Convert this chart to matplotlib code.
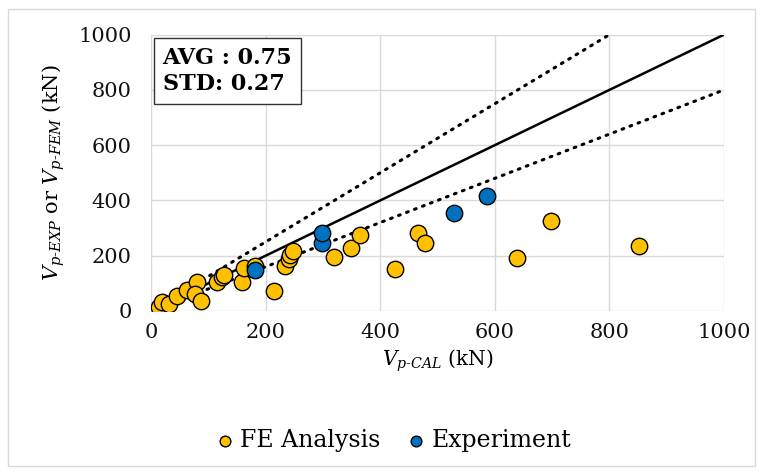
import numpy as np
import matplotlib.pyplot as plt
from matplotlib.patches import Rectangle

# FE analysis points (V_p-CAL, V_p-FEM)
fe_cal = [14, 19, 31, 45, 62, 80, 77, 87, 115, 123, 127, 158, 163, 181,
          214, 234, 240, 243, 247, 320, 349, 365, 425, 465, 478, 639, 698, 851]
fe_fem = [16, 32, 24, 53, 76, 105, 62, 36, 104, 124, 130, 106, 155, 162,
          72, 163, 187, 202, 218, 196, 228, 275, 151, 283, 247, 192, 326, 236]

# experiment points (V_p-CAL, V_p-EXP)
exp_cal = [181, 298, 298, 528, 586]
exp_val = [147, 247, 281, 353, 417]

ref_x = [0, 1000]

plt.rcParams['font.family'] = 'DejaVu Serif'
plt.rcParams['mathtext.fontset'] = 'dejavuserif'

fig = plt.figure(figsize=(7.63, 4.74), dpi=100)
fig.patches.append(Rectangle((8 / 763, 1 - 466 / 474), 747 / 763, 457 / 474,
                             transform=fig.transFigure, fill=False,
                             edgecolor='#d9d9d9', linewidth=1))
ax = fig.add_axes([0.198, 0.344, 0.751, 0.583])

ax.plot(ref_x, ref_x, color='black', lw=1.8, zorder=2)
ax.plot(ref_x, [1.25 * v for v in ref_x], color='black', lw=2.2, ls=(0, (0.6, 2.2)),
        dash_capstyle='round', zorder=2)
ax.plot(ref_x, [0.8 * v for v in ref_x], color='black', lw=2.2, ls=(0, (0.6, 2.2)),
        dash_capstyle='round', zorder=2)

ax.scatter(fe_cal, fe_fem, s=140, color='#FFC000', edgecolor='black', lw=1,
           zorder=3, label='FE Analysis')
ax.scatter(exp_cal, exp_val, s=140, color='#0070C0', edgecolor='black', lw=1,
           zorder=4, label='Experiment')

ax.set_xlim(0, 1000)
ax.set_ylim(0, 1000)
ax.set_xticks(np.arange(0, 1001, 200))
ax.set_yticks(np.arange(0, 1001, 200))
ax.grid(True, color='#d9d9d9', lw=1)
ax.set_axisbelow(True)
for s in ax.spines.values():
    s.set_visible(False)
ax.tick_params(length=0, labelsize=15, colors='#111111')
ax.tick_params(axis='y', pad=14)
ax.tick_params(axis='x', pad=9)

ax.set_xlabel(r'$V_{p\text{-}CAL}$ (kN)', fontsize=14.5, labelpad=4)
ax.set_ylabel(r'$V_{p\text{-}EXP}$ or $V_{p\text{-}FEM}$ (kN)', fontsize=15, labelpad=8)

ax.text(0.02, 0.955, 'AVG : 0.75\nSTD: 0.27', transform=ax.transAxes,
        fontsize=16, fontweight='bold', va='top', ha='left', linespacing=1.25,
        bbox=dict(boxstyle='square,pad=0.4', facecolor='white', edgecolor='#333333', lw=1))

fig.legend(loc='center', bbox_to_anchor=(0.514, 0.07), ncol=2, frameon=False,
           fontsize=17, handletextpad=0.15, handlelength=1.0, columnspacing=1.0,
           markerscale=0.65)

fig.savefig('out.png', dpi=100)
